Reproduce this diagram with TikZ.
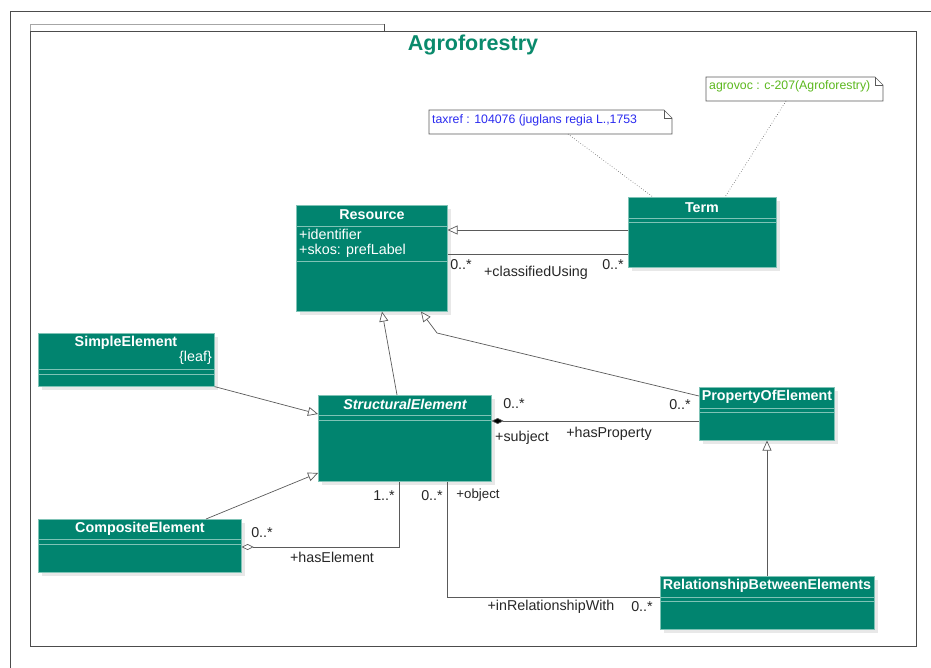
\documentclass[tikz,border=0pt]{standalone}
\usepackage{fontspec}
\setmainfont{Liberation Sans}
\usetikzlibrary{arrows.meta,shadows}
\definecolor{teal1}{HTML}{01846F}
\definecolor{tealtitle}{HTML}{0A8A6C}
\definecolor{sepc}{HTML}{7FC3B6}
\definecolor{linec}{HTML}{5A5A5A}
\definecolor{notblue}{HTML}{2B2BF0}
\definecolor{notgreen}{HTML}{5CB81E}
\tikzset{
  cls/.style={draw=sepc, line width=0.6pt, fill=teal1, rectangle, inner sep=0pt, anchor=north west,
    drop shadow={shadow xshift=4pt, shadow yshift=-4pt, fill=black!9, opacity=1}},
  sepline/.style={draw=sepc, line width=0.7pt},
  cname/.style={font=\fontsize{14.3}{16}\selectfont\bfseries, text=white, inner sep=0pt},
  cattr/.style={font=\fontsize{14.3}{16}\selectfont, text=white, inner sep=0pt},
  lbl/.style={font=\fontsize{14.3}{16}\selectfont, text=black!85, inner sep=0pt},
  conn/.style={draw=linec, line width=0.7pt},
  gen/.style={conn, -{Triangle[open, length=10pt, width=9pt, fill=white]}},
  notebox/.style={draw=linec, line width=0.6pt, fill=white},
  notetxt/.style={font=\fontsize{12.3}{14}\selectfont, inner sep=0pt, anchor=west},
  dotl/.style={draw=linec, line width=0.6pt, dotted},
}
\begin{document}
\begin{tikzpicture}[x=1pt,y=-1pt]
\useasboundingbox (0,0) rectangle (931,668);
% outer frame
\draw[draw=black!70, line width=0.8pt] (10,668) -- (10,11) -- (931,11);
% inner frame with tab
\draw[draw=black!35, line width=0.7pt] (30,31) -- (30,24) -- (384,24);
\draw[draw=black!70, line width=0.7pt] (384,24) -- (384,31);
\draw[draw=black!70, line width=0.7pt] (30,31) rectangle (916,646);
\node[font=\fontsize{21.5}{24}\selectfont\bfseries, text=tealtitle, inner sep=0pt] (title) at (473,45) {Agroforestry};

% notes
\draw[notebox] (429,110) -- (664,110) -- (672,118) -- (672,134) -- (429,134) -- cycle;
\draw[draw=linec, line width=0.5pt] (664,110) -- (664,118) -- (672,118);
\node[notetxt, text=notblue] (taxref) at (432,120) {taxref : 104076 (juglans regia L.,1753};
\draw[notebox] (706,77) -- (875,77) -- (883,85) -- (883,101) -- (706,101) -- cycle;
\draw[draw=linec, line width=0.5pt] (875,77) -- (875,85) -- (883,85);
\node[notetxt, text=notgreen] (agrovoc) at (709,86) {agrovoc : c-207(Agroforestry)};
\coordinate (taxrefb) at (568,134);
\coordinate (agrob) at (786,101);

% classes
\node[cls, minimum width=151pt, minimum height=106pt] (res) at (296,205) {};
\draw[sepline] (296,226) -- (447,226);
\draw[sepline] (296,261) -- (447,261);
\node[cname] (resn) at (372,215) {Resource};
\node[cattr, anchor=west] (resa1) at (299,234.5) {+identifier};
\node[cattr, anchor=west] (resa2) at (299,250.5) {+skos: prefLabel};

\node[cls, minimum width=148pt, minimum height=70pt] (term) at (628,197) {};
\draw[sepline] (628,218) -- (776,218);
\draw[sepline] (628,222) -- (776,222);
\node[cname] (termn) at (702,207.5) {Term};

\node[cls, minimum width=176pt, minimum height=53pt] (simple) at (38,333) {};
\draw[sepline] (38,369) -- (214,369);
\draw[sepline] (38,374) -- (214,374);
\node[cname] (simplen) at (126,342.5) {SimpleElement};
\node[cattr, anchor=east] (simplel) at (212,357.5) {\{leaf\}};

\node[cls, minimum width=173pt, minimum height=86pt] (struct) at (318,395) {};
\draw[sepline] (318,415) -- (491,415);
\draw[sepline] (318,420) -- (491,420);
\node[cname, font=\fontsize{14.3}{16}\selectfont\bfseries\itshape] (structn) at (405,404.5) {StructuralElement};

\node[cls, minimum width=203pt, minimum height=53pt] (comp) at (38,519) {};
\draw[sepline] (38,539) -- (241,539);
\draw[sepline] (38,544) -- (241,544);
\node[cname] (compn) at (140,528.5) {CompositeElement};

\node[cls, minimum width=135pt, minimum height=53pt] (prop) at (699,387) {};
\draw[sepline] (699,408) -- (834,408);
\draw[sepline] (699,412) -- (834,412);
\node[cname] (propn) at (767,396.5) {PropertyOfElement};

\node[cls, minimum width=214pt, minimum height=53pt] (rel) at (660,576) {};
\draw[sepline] (660,597) -- (874,597);
\draw[sepline] (660,601) -- (874,601);
\node[cname] (reln) at (767,585.5) {RelationshipBetweenElements};

% note links
\draw[dotl] (taxrefb) -- (term.north west -| 653,0);
\draw[dotl] (agrob) -- (term.north west -| 725,0);

% Term -> Resource generalization
\draw[gen] (term.west |- 0,230) -- (res.east |- 0,230);
% association classifiedUsing
\draw[conn] (res.east |- 0,254) -- (term.west |- 0,254);
\node[lbl] (m1) at (461,264.5) {0..*};
\node[lbl] (m2) at (613,264.5) {0..*};
\node[lbl] (r1) at (536,272.5) {+classifiedUsing};

% StructuralElement -> Resource
\draw[gen] (struct.north -| 397,0) -- (res.south -| 382,0);
% PropertyOfElement -> Resource
\coordinate (pbend) at (437,333);
\draw[gen] (prop.north west |- 0,396) -- (pbend) -- (res.south -| 421,0);
% SimpleElement -> StructuralElement
\draw[gen] (simple.south east) -- (struct.west |- 0,414);
% CompositeElement -> StructuralElement
\draw[gen] (comp.north east -| 206,0) -- (struct.west |- 0,473);

% composition hasProperty
\draw[conn, {Diamond[length=12pt, width=6pt, fill=black]}-] (struct.east |- 0,421) -- (prop.west |- 0,421);
\node[lbl] (m3) at (514,403.5) {0..*};
\node[lbl] (m4) at (680,404.5) {0..*};
\node[lbl] (r2) at (522,437.5) {+subject};
\node[lbl] (r3) at (609,433.5) {+hasProperty};

% Relationship -> PropertyOfElement
\draw[gen] (rel.north -| 767,0) -- (prop.south -| 767,0);

% aggregation hasElement
\coordinate (hb) at (399,547);
\draw[conn, {Diamond[open, length=12pt, width=6pt, fill=white]}-] (comp.east |- 0,547) -- (hb) -- (struct.south -| 399,0);
\node[lbl] (m5) at (262,532.5) {0..*};
\node[lbl] (r4) at (332,557.5) {+hasElement};
\node[lbl] (m6) at (384,495.5) {1..*};

% inRelationshipWith
\coordinate (ib) at (447,597);
\draw[conn] (struct.south -| 447,0) -- (ib) -- (rel.west |- 0,597);
\node[lbl] (m7) at (432,495.5) {0..*};
\node[lbl, font=\fontsize{13.3}{15}\selectfont] (r5) at (478,495.5) {+object};
\node[lbl] (r6) at (551,606.5) {+inRelationshipWith};
\node[lbl] (m8) at (642,606.5) {0..*};
\end{tikzpicture}
\end{document}
